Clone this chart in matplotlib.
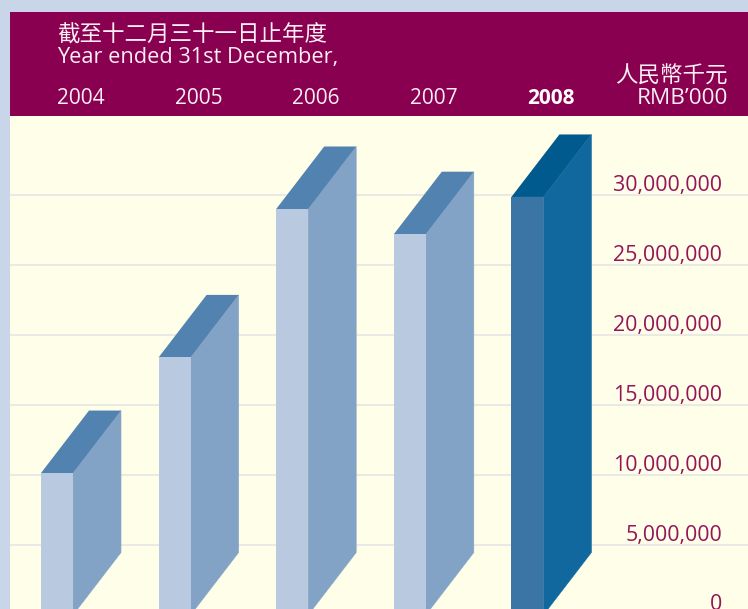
import matplotlib
matplotlib.use("Agg")
import matplotlib.pyplot as plt
from matplotlib.patches import Polygon, Rectangle

W, H = 748, 609
plt.rcParams['font.family'] = ['Open Sans', 'Noto Sans CJK TC', 'DejaVu Sans']

# data
years = ['2004', '2005', '2006', '2007', '2008']
values = [10140000, 18400000, 29000000, 27200000, 29860000]
grid_values = [5000000, 10000000, 15000000, 20000000, 25000000, 30000000]
tick_values = [0, 5000000, 10000000, 15000000, 20000000, 25000000, 30000000]

# bar colours: front, side, top
normal = ['#b8c9e0', '#82a3c6', '#5282b0']
latest = ['#3a75a6', '#10689e', '#005a8e']

# scale: one year = 117.6 px, 5,000,000 = 70 px
px_x = 117.6
px_y = 5000000 / 70
front_w = 32 / px_x
side_w = 48 / px_x
depth = 62.5 * px_y

fig = plt.figure(figsize=(W / 100, H / 100), dpi=100, facecolor='#c9d5e8')
ax = fig.add_axes([0, 0, 1, 1])
ax.set_xlim(-41 / px_x, (W - 41) / px_x)
ax.set_ylim(6 * px_y, 615 * px_y)
ax.axis('off')


def fx(px):
    return px / W


def fy(py):
    return 1 - py / H


# background panels
fig.patches.append(Rectangle((fx(10), 0), fx(W - 10), fy(116), transform=fig.transFigure,
                             facecolor='#fffee8', edgecolor='none', zorder=-2))
fig.patches.append(Rectangle((fx(10), fy(116)), fx(W - 10), 104 / H, transform=fig.transFigure,
                             facecolor='#8a0050', edgecolor='none', zorder=-1))

x_left = -31 / px_x
ax.hlines(grid_values, x_left, W / px_x, color='#e9e9e6', lw=1.5, zorder=1)

for i, v in enumerate(values):
    front, side, top = latest if years[i] == '2008' else normal
    x0 = i
    x1 = i + front_w
    x2 = x1 + side_w
    ax.add_patch(Polygon([(x1, 0), (x2, depth), (x2, v + depth), (x1, v)],
                         facecolor=side, edgecolor=side, lw=0.4, zorder=3))
    ax.add_patch(Polygon([(x0, v), (x1, v), (x2, v + depth), (x0 + side_w, v + depth)],
                         facecolor=top, edgecolor='none', zorder=3))
    ax.add_patch(Rectangle((x0, 0), front_w, v, facecolor=front, edgecolor='none', zorder=4))

# value labels sit just above the grid lines
for t in tick_values:
    ax.annotate(f'{t:,}', (722 / W, t), xycoords=('figure fraction', 'data'),
                xytext=(0, 4.5 * 0.72), textcoords='offset points',
                ha='right', va='baseline', fontsize=15.4, color='#961459', zorder=5)

# header text
white = '#fbeef4'
fig.text(fx(57), fy(42), '截至十二月三十一日止年度', fontsize=16.2, color=white, va='baseline',
         family=['Noto Sans CJK TC', 'DejaVu Sans'])
fig.text(fx(57.5), fy(63), 'Year ended 31st December,', fontsize=15.7, color=white, va='baseline')
fig.text(fx(728), fy(83), '人民幣千元', fontsize=16.2, color=white, ha='right', va='baseline',
         family=['Noto Sans CJK TC', 'DejaVu Sans'])
fig.text(fx(728), fy(104), 'RMB’000', fontsize=16.2, color=white, ha='right', va='baseline')

for i, y in enumerate(years):
    bold = y == '2008'
    fig.text(fx(41 + 16 + i * px_x), fy(104), y, fontsize=15, ha='left', va='baseline',
             color='white' if bold else white, fontweight='bold' if bold else 'normal')

fig.savefig('out.png', dpi=100, facecolor=fig.get_facecolor())
